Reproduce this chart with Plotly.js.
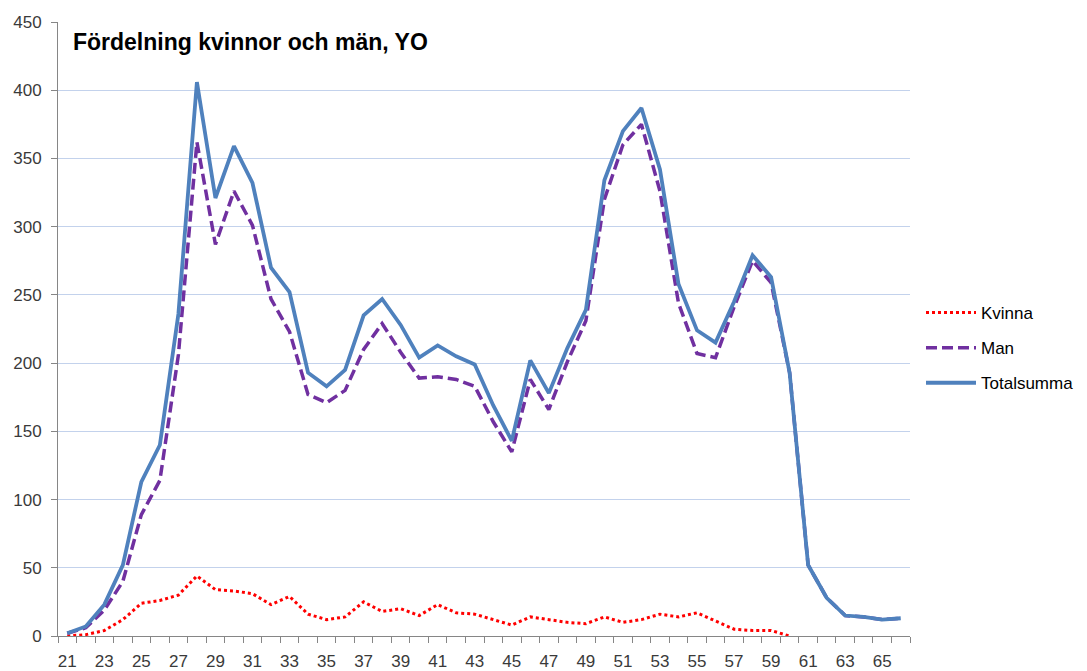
<!DOCTYPE html>
<html>
<head>
<meta charset="utf-8">
<script src="https://cdn.plot.ly/plotly-3.0.1.min.js"></script>
<style>html,body{margin:0;padding:0;background:#fff;}#chart{width:1087px;height:671px;}</style>
</head>
<body>
<div id="chart"></div>
<script>
var ages = [21,22,23,24,25,26,27,28,29,30,31,32,33,34,35,36,37,38,39,40,41,42,43,44,45,46,47,48,49,50,51,52,53,54,55,56,57,58,59,60,61,62,63,64,65,66];
var kvinna = [0,1,4,12,24,26,30,44,34,33,31,23,29,16,12,14,25,18,20,15,23,17,16,12,8,14,12,10,9,14,10,12,16,14,17,11,5,4,4,0,null,null,null,null,null,null];
var man = [2,6,19,40,89,114,206,362,287,326,301,247,223,177,171,180,210,229,208,189,190,188,183,157,135,188,166,201,231,320,360,375,326,244,207,204,241,275,259,193,52,28,15,14,12,13];
var totalsumma = [2,7,23,52,113,140,236,406,321,359,332,270,252,193,183,195,235,247,228,204,213,205,199,169,143,202,178,211,239,334,370,387,342,258,224,215,245,279,263,193,52,28,15,14,12,13];
var xTickVals = ages.filter(function(a){return a % 2 === 1;});
var xTickText = xTickVals.map(String);
var yTickVals = [0,50,100,150,200,250,300,350,400,450];

var font = 'Liberation Sans, Arial, sans-serif';
var traces = [
  {x: ages, y: kvinna, name: 'Kvinna', type: 'scatter', mode: 'lines', legendgroup: 'a',
   line: {color: '#ff0000', width: 3, dash: 'dot'}, connectgaps: false},
  {x: ages, y: man, name: 'Man', type: 'scatter', mode: 'lines', legendgroup: 'b',
   line: {color: '#7030a0', width: 3.5, dash: '11px,5px'}},
  {x: ages, y: totalsumma, name: 'Totalsumma', type: 'scatter', mode: 'lines', legendgroup: 'c',
   line: {color: '#4f81bd', width: 3.8}}
];
var layout = {
  width: 1087, height: 671,
  margin: {l: 58, r: 177, t: 22, b: 35},
  paper_bgcolor: '#ffffff', plot_bgcolor: '#ffffff',
  font: {family: font, size: 17, color: '#3a3a3a'},
  title: {text: 'Fördelning kvinnor och män, YO', font: {family: font, size: 23, color: '#000000', weight: 'bold'},
          x: 0.0176, xref: 'paper', xanchor: 'left', y: 1 - 42/671, yref: 'container', yanchor: 'middle'},
  xaxis: {range: [20.5, 66.5], tickmode: 'array', tickvals: xTickVals, ticktext: xTickText,
          ticks: '', showgrid: false, zeroline: false, showline: true, linecolor: '#868686', linewidth: 1,
          ticklabelstandoff: 10, tickfont: {size: 17, color: '#3a3a3a'},
          minor: {tick0: 20.5, dtick: 1, ticks: 'outside', ticklen: 6, tickcolor: '#868686', tickwidth: 1, showgrid: false}},
  yaxis: {range: [0, 450], tickmode: 'array', tickvals: yTickVals, ticks: 'outside', ticklen: 6, tickcolor: '#868686',
          showgrid: true, gridcolor: '#c3d2ec', gridwidth: 1, zeroline: false, showline: true, linecolor: '#868686', linewidth: 1,
          ticklabelstandoff: 6, tickfont: {size: 17, color: '#3a3a3a'}},
  legend: {xref: 'container', x: 921/1087, xanchor: 'left', yref: 'container', y: 1 - 295/671, yanchor: 'top',
           traceorder: 'grouped', tracegroupgap: 10,
           bgcolor: 'rgba(0,0,0,0)', font: {size: 17, color: '#000000'}, itemwidth: 50},
  showlegend: true
};
Plotly.newPlot('chart', traces, layout, {displayModeBar: false, staticPlot: true});
</script>
</body>
</html>
